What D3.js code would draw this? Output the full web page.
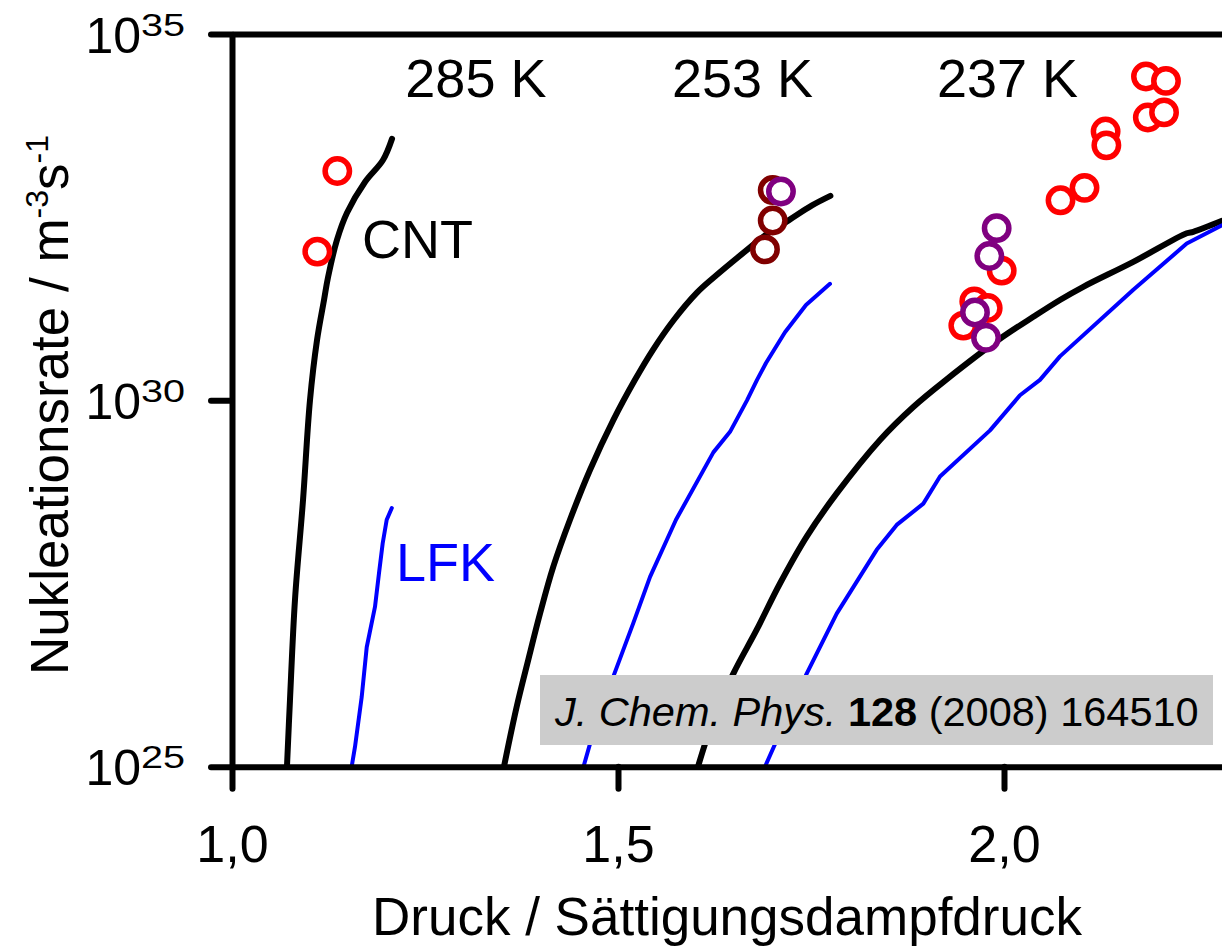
<!DOCTYPE html>
<html><head><meta charset="utf-8">
<script src="https://cdn.jsdelivr.net/npm/d3@7"></script>
<style>
html,body{margin:0;padding:0;background:#fff;}
svg{display:block;font-family:"Liberation Sans",Arial,sans-serif;}
</style></head>
<body><svg id="chart" width="1222" height="949"></svg>
<script>
// ---- data (S = Druck / Sättigungsdampfdruck, values as log10 of rate) ----
const xTicks = [1.0, 1.5, 2.0];
const xTickLabels = ["1,0", "1,5", "2,0"];
const yTickExps = [25, 30, 35];

const cnt285S    = [1.0712,1.0751,1.0816,1.0920,1.1010,1.1101,1.1192,1.1244,1.1360,1.1490,1.1723,1.1956,1.2073];
const cnt285LogJ = [25.00,25.91,27.28,28.64,30.00,30.82,31.37,31.68,32.19,32.56,32.98,33.28,33.57];
const lfk285S    = [1.1550,1.1593,1.1680,1.1745,1.1852,1.1904,1.1952,1.2004,1.2070];
const lfk285LogJ = [25.00,25.27,25.95,26.63,27.18,27.64,28.05,28.37,28.53];

const cnt253S    = [1.3523,1.3688,1.3838,1.3990,1.4162,1.4378,1.4637,1.4939,1.5220,1.5453,1.5725,1.6023,1.6244,1.6667,1.6917,1.7215,1.7513,1.7751];
const cnt253LogJ = [25.00,25.82,26.46,27.09,27.73,28.37,29.05,29.73,30.28,30.69,31.10,31.47,31.68,32.05,32.26,32.46,32.66,32.79];
const lfk253S    = [1.4553,1.4702,1.4939,1.5198,1.5415,1.5751,1.6235,1.6451,1.6671,1.6801,1.6917,1.7163,1.7435,1.7746];
const lfk253LogJ = [25.00,25.55,26.23,26.96,27.59,28.37,29.29,29.57,30.00,30.28,30.51,30.93,31.30,31.59];

const cnt237S    = [1.6036,1.6235,1.6494,1.6797,1.7098,1.7444,1.7833,1.8394,1.8825,1.9249,1.9948,2.0380,2.0725,2.1027,2.1675,2.2367,2.2452,2.2824];
const cnt237LogJ = [25.00,25.64,26.27,26.87,27.50,28.14,28.73,29.46,29.91,30.28,30.84,31.14,31.37,31.55,31.89,32.28,32.30,32.45];
const lfk237S    = [1.6904,1.7098,1.7444,1.7833,1.8351,1.8610,1.8955,1.9171,1.9819,2.0207,2.0466,2.0725,2.1675,2.2367,2.2824];
const lfk237LogJ = [25.00,25.46,26.27,27.09,27.96,28.30,28.59,28.96,29.59,30.07,30.28,30.60,31.51,32.14,32.39];

// experimental points
const red285S     = [1.1364, 1.1105];
const red285LogJ  = [33.13, 32.03];
const brown253S   = [1.7004, 1.7004, 1.6904];
const brown253LogJ= [32.87, 32.455, 32.06];
const purple253S  = [1.7111];
const purple253LogJ = [32.85];
const red237S     = [1.9970,1.9615,1.9789,1.9473,2.0732,2.1043,2.1316,2.1326,2.1839,2.2098,2.1863,2.2073];
const red237LogJ  = [31.77,31.35,31.26,31.02,32.73,32.90,33.67,33.48,34.42,34.36,33.86,33.93];
const purple237S  = [1.9905,1.9810,1.9624,1.9767];
const purple237LogJ = [32.35,31.97,31.20,30.855];

const tempLabels = ["285 K", "253 K", "237 K"];
const xLabel = "Druck / Sättigungsdampfdruck";

// ---- drawing ----
const svg = d3.select("#chart");
const x = d3.scaleLinear().domain([1, 2.3]).range([232, 232 + 1.3 * 772]);
const y = d3.scaleLog().domain([1e25, 1e35]).range([766.7, 34]);
const pts = (sx, ly) => sx.map((s, i) => [s, Math.pow(10, ly[i])]);

const smoothLine = d3.line().x(d => x(d[0])).y(d => y(d[1])).curve(d3.curveCatmullRom.alpha(0.5));
const straightLine = d3.line().x(d => x(d[0])).y(d => y(d[1]));

const curves = [
  {d: pts(cnt285S, cnt285LogJ), c: "#000", w: 6, gen: smoothLine},
  {d: pts(cnt253S, cnt253LogJ), c: "#000", w: 6, gen: smoothLine},
  {d: pts(cnt237S, cnt237LogJ), c: "#000", w: 6, gen: smoothLine},
  {d: pts(lfk285S, lfk285LogJ), c: "#0000ff", w: 4, gen: straightLine},
  {d: pts(lfk253S, lfk253LogJ), c: "#0000ff", w: 4, gen: straightLine},
  {d: pts(lfk237S, lfk237LogJ), c: "#0000ff", w: 4, gen: straightLine}
];

const g = svg.append("g");
curves.forEach(cv => {
  g.append("path").attr("d", cv.gen(cv.d)).attr("fill", "none")
   .attr("stroke", cv.c).attr("stroke-width", cv.w)
   .attr("stroke-linecap", "round").attr("stroke-linejoin", "round");
});

// citation
const bx = svg.append("g");
bx.append("rect").attr("x", 540).attr("y", 675).attr("width", 673).attr("height", 70).attr("fill", "#cccccc");
const ct = bx.append("text").attr("x", 555).attr("y", 726).attr("font-size", 41.5).attr("fill", "#000");
ct.append("tspan").attr("font-style", "italic").text("J. Chem. Phys. ");
ct.append("tspan").attr("font-weight", "bold").text("128");
ct.append("tspan").text(" (2008) 164510");

// points
const drawPts = (sx, ly, col) => {
  svg.append("g").selectAll("circle").data(pts(sx, ly)).join("circle")
    .attr("cx", d => x(d[0])).attr("cy", d => y(d[1])).attr("r", 12.2)
    .attr("fill", "#fff").attr("stroke", col).attr("stroke-width", 5.5);
};
drawPts(red285S, red285LogJ, "#ff0000");
drawPts(red237S, red237LogJ, "#ff0000");
drawPts(brown253S, brown253LogJ, "#800000");
drawPts(purple253S, purple253LogJ, "#800080");
drawPts(purple237S, purple237LogJ, "#800080");

// axes
const axStyle = sel => {
  sel.selectAll("path.domain").attr("stroke", "#000").attr("stroke-width", 6);
  sel.selectAll(".tick line").attr("stroke", "#000").attr("stroke-width", 6).attr("stroke-linecap", "round");
};
const xAxis = svg.append("g").attr("transform", `translate(0,${y.range()[0]})`)
  .call(d3.axisBottom(x).tickValues(xTicks).tickSize(22).tickSizeOuter(0)
        .tickFormat((d, i) => xTickLabels[i]));
axStyle(xAxis);
xAxis.selectAll(".tick text").attr("y", 95).attr("dy", null)
  .attr("font-size", 52).attr("fill", "#000").attr("font-family", "Liberation Sans, Arial, sans-serif");

const yAxis = svg.append("g").attr("transform", `translate(${x.range()[0]},0)`)
  .call(d3.axisLeft(y).tickValues(yTickExps.map(e => Math.pow(10, e))).tickSize(21).tickSizeOuter(0)
        .tickFormat(() => ""));
axStyle(yAxis);
yAxis.selectAll(".tick").each(function(d, i) {
  const t = d3.select(this);
  t.select("text").remove();
  t.append("text").attr("x", -91).attr("y", 18).attr("text-anchor", "end")
   .attr("font-size", 50).attr("fill", "#000").text("10");
  t.append("text").attr("x", -47).attr("y", 1).attr("text-anchor", "end")
   .attr("font-size", 31).attr("fill", "#000")
   .attr("textLength", 44).attr("lengthAdjust", "spacingAndGlyphs").text(String(yTickExps[i]));
});

// top frame line
const topAx = svg.append("g").attr("transform", `translate(0,${y.range()[1]})`)
  .call(d3.axisTop(x).tickValues([]).tickSizeOuter(0));
topAx.select("path.domain").attr("stroke", "#000").attr("stroke-width", 6);

// axis titles
svg.append("text").attr("x", 727).attr("y", 935).attr("text-anchor", "middle")
  .attr("font-size", 53).attr("fill", "#000").text(xLabel);
const yt = svg.append("text").attr("transform", "translate(68,675) rotate(-90)")
  .attr("text-anchor", "start").attr("font-size", 53).attr("fill", "#000");
yt.append("tspan").text("Nukleationsrate / m");
yt.append("tspan").attr("dy", -20).attr("font-size", 32).text("-3");
yt.append("tspan").attr("dy", 20).text("s");
yt.append("tspan").attr("dy", -20).attr("font-size", 32).text("-1");

// annotations
const tx = [1.2245, 1.5699, 1.9132];
tempLabels.forEach((l, i) => {
  svg.append("text").attr("x", x(tx[i])).attr("y", 97).attr("font-size", 54).attr("fill", "#000").text(l);
});
svg.append("text").attr("x", x(1.1684)).attr("y", 258).attr("font-size", 54).attr("fill", "#000").text("CNT");
svg.append("text").attr("x", x(1.2124)).attr("y", 581).attr("font-size", 54).attr("fill", "#0000ff").text("LFK");
</script></body></html>
